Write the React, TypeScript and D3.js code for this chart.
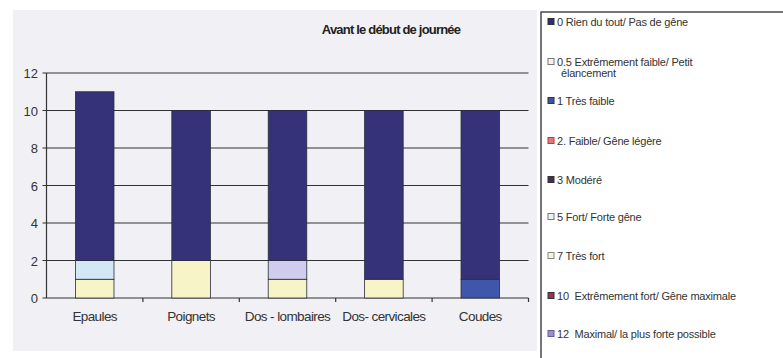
import React from "react";
import * as d3 from "d3";

const categories = ["Epaules", "Poignets", "Dos - lombaires", "Dos- cervicales", "Coudes"];

const seriesNames = [
  "0 Rien du tout/ Pas de gêne",
  "0.5 Extrêmement faible/ Petit élancement",
  "1 Très faible",
  "2. Faible/ Gêne légère",
  "3 Modéré",
  "5 Fort/ Forte gêne",
  "7 Très fort",
  "10 Extrêmement fort/ Gêne maximale",
  "12 Maximal/ la plus forte possible",
];

const legendLines = [
  ["0 Rien du tout/ Pas de gêne"],
  ["0.5 Extrêmement faible/ Petit", "élancement"],
  ["1 Très faible"],
  ["2. Faible/ Gêne légère"],
  ["3 Modéré"],
  ["5 Fort/ Forte gêne"],
  ["7 Très fort"],
  ["10  Extrêmement fort/ Gêne maximale"],
  ["12  Maximal/ la plus forte possible"],
];

const v0 = [9, 8, 8, 9, 9];
const v05 = [0, 0, 0, 0, 0];
const v1 = [0, 0, 0, 0, 1];
const v2 = [0, 0, 0, 0, 0];
const v3 = [0, 0, 0, 0, 0];
const v5 = [1, 0, 0, 0, 0];
const v7 = [1, 2, 1, 1, 0];
const v10 = [0, 0, 0, 0, 0];
const v12 = [0, 0, 1, 0, 0];

const seriesValues = [v0, v05, v1, v2, v3, v5, v7, v10, v12];
const fills = ["#35327a", "#ffffff", "#3f57ab", "#e88080", "#4b2d5a", "#d3e8f4", "#f7f5c8", "#993355", "#cfcdee"];
const swatchFills = ["#2e2e78", "#f4f4f4", "#3d55a8", "#e07a7a", "#4b2d5a", "#eef4f2", "#f7f5d2", "#993355", "#9a90c8"];
const swatchStrokes = ["#333", "#777", "#333", "#b04040", "#333", "#777", "#888", "#333", "#6a5a9a"];
// stacking order bottom -> top (indices into seriesNames)
const stackOrder = [2, 6, 5, 8, 1, 3, 4, 7, 0];
const yTicks = [0, 2, 4, 6, 8, 10, 12];
const title = "Avant le début de journée";

export default function App() {
  const W = 783, H = 358;
  const left = 46.5, right = 528.5, top = 73, bottom = 298;
  const x = d3.scaleBand().domain(categories).range([left, right]).paddingInner(0.6).paddingOuter(0.3);
  const xb = d3.scaleBand().domain(categories).range([left, right]);
  const y = d3.scaleLinear().domain([0, 12]).range([bottom, top]);

  const rows = categories.map((c, i) => {
    const r: any = { cat: c };
    seriesNames.forEach((s, k) => (r[s] = seriesValues[k][i]));
    return r;
  });
  const stack = d3.stack().keys(stackOrder.map((k) => seriesNames[k]));
  const layers = stack(rows as any);

  const font = "'Liberation Sans', Arial, sans-serif";
  const legendY = [22, 62, 101, 141, 180, 217, 256, 296, 334];

  return (
    <svg width={W} height={H} style={{ position: "absolute", left: 0, top: 0 }} fontFamily={font}>
      <rect x={0} y={0} width={W} height={H} fill="#ffffff" />
      <rect x={13} y={10} width={524} height={341} fill="#f1f1f5" />
      <text x={391} y={34} textAnchor="middle" fontSize={13} fontWeight="bold" letterSpacing={-0.8} fill="#222">
        {title}
      </text>
      {yTicks.map((t) => (
        <g key={t}>
          <line x1={left - 4} x2={right} y1={y(t)} y2={y(t)} stroke="#333" strokeWidth={1.2} />
          <text x={38} y={y(t) + 5} textAnchor="end" fontSize={13} fill="#333">
            {t}
          </text>
        </g>
      ))}
      <line x1={left} x2={left} y1={top} y2={bottom} stroke="#333" strokeWidth={1.2} />
      {categories.map((c) => (
        <line key={c} x1={(xb(c) as number) + xb.bandwidth()} x2={(xb(c) as number) + xb.bandwidth()} y1={bottom} y2={bottom + 4} stroke="#333" strokeWidth={1.2} />
      ))}
      {layers.map((layer: any) => {
        const k = seriesNames.indexOf(layer.key);
        return layer.map((d: any, i: number) =>
          d[1] - d[0] > 0 ? (
            <rect
              key={layer.key + i}
              x={x(categories[i])}
              width={x.bandwidth()}
              y={y(d[1])}
              height={y(d[0]) - y(d[1])}
              fill={fills[k]}
              stroke="#2a2a3a"
              strokeWidth={0.8}
            />
          ) : null
        );
      })}
      {categories.map((c) => (
        <text key={c} x={(xb(c) as number) + xb.bandwidth() / 2} y={321} textAnchor="middle" fontSize={13.5} letterSpacing={-0.6} fill="#333">
          {c}
        </text>
      ))}
      <rect x={541} y={12} width={260} height={360} fill="#ffffff" stroke="#4a4a4a" strokeWidth={1.5} />
      {seriesNames.map((s, k) => (
        <g key={s}>
          <rect x={548} y={legendY[k] - 3.5} width={6} height={6} fill={swatchFills[k]} stroke={swatchStrokes[k]} strokeWidth={1} />
          {legendLines[k].map((ln, j) => (
            <text key={j} x={j === 0 ? 557 : 561} y={legendY[k] + 4 + j * 11} fontSize={11} letterSpacing={-0.2} style={{ whiteSpace: "pre" }} fill="#333">
              {ln}
            </text>
          ))}
        </g>
      ))}
    </svg>
  );
}
